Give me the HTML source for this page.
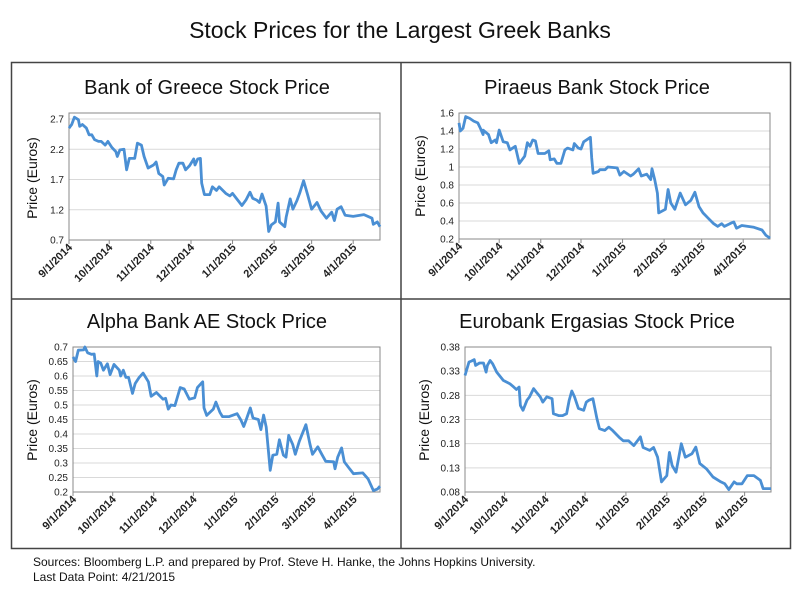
<!DOCTYPE html>
<html><head><meta charset="utf-8"><style>
body{margin:0;background:#fff;width:800px;height:600px;overflow:hidden;font-family:"Liberation Sans",sans-serif}
svg{position:absolute;left:0;top:0}
</style></head><body>
<svg id="chart" width="800" height="600" xmlns="http://www.w3.org/2000/svg">
<text x="400" y="38" text-anchor="middle" font-size="23" fill="#111">Stock Prices for the Largest Greek Banks</text>
<rect x="11.5" y="62.5" width="779" height="486" fill="none" stroke="#444" stroke-width="1.5"/>
<line x1="401" y1="62" x2="401" y2="549" stroke="#444" stroke-width="1.5"/>
<line x1="11" y1="299" x2="791" y2="299" stroke="#444" stroke-width="1.5"/>
<text x="33" y="566" font-size="12" fill="#111">Sources: Bloomberg L.P. and prepared by Prof. Steve H. Hanke, the Johns Hopkins University.</text>
<text x="33" y="581" font-size="12" fill="#111">Last Data Point: 4/21/2015</text>
</svg>
<script>
const tickLabels=["9/1/2014","10/1/2014","11/1/2014","12/1/2014","1/1/2015","2/1/2015","3/1/2015","4/1/2015"];
const tickDays=[0,30,61,91,122,153,181,212];
const totalDays=232;
const titles=["Bank of Greece Stock Price","Piraeus Bank Stock Price","Alpha Bank AE Stock Price","Eurobank Ergasias Stock Price"];
const yTicks1=[0.7,1.2,1.7,2.2,2.7];
const yTicks2=[0.2,0.4,0.6,0.8,1,1.2,1.4,1.6];
const yTicks3=[0.2,0.25,0.3,0.35,0.4,0.45,0.5,0.55,0.6,0.65,0.7];
const yTicks4=[0.08,0.13,0.18,0.23,0.28,0.33,0.38];
const days1=[0,2,4,7,8,10,13,15,17,19,22,24,27,29,32,35,36,38,41,43,45,49,51,54,56,59,63,65,67,70,71,74,78,80,82,85,87,90,93,94,96,98,99,101,105,107,110,112,117,120,122,129,132,135,137,140,142,144,147,149,151,154,156,157,161,162,165,167,170,172,175,178,181,185,188,192,196,198,200,203,206,212,220,226,227,230,232];
const vals1=[2.55,2.61,2.73,2.69,2.58,2.61,2.55,2.44,2.44,2.36,2.33,2.33,2.27,2.33,2.23,2.16,2.08,2.19,2.20,1.86,2.05,2.05,2.30,2.27,2.08,1.89,1.94,1.99,1.80,1.75,1.61,1.72,1.71,1.86,1.97,1.97,1.86,1.93,2.04,1.94,2.04,2.05,1.64,1.45,1.45,1.58,1.52,1.58,1.47,1.43,1.47,1.27,1.36,1.49,1.39,1.36,1.32,1.46,1.26,0.84,0.95,1.00,1.31,1.00,0.92,1.08,1.38,1.21,1.35,1.47,1.68,1.45,1.21,1.32,1.18,1.06,1.16,1.02,1.21,1.25,1.11,1.09,1.12,1.06,0.96,1.00,0.92];
const days2=[0,1,3,5,8,11,14,16,18,18,22,24,27,28,30,33,36,38,42,45,49,51,53,55,57,59,64,67,68,71,73,76,79,81,85,86,89,91,93,98,99,100,104,105,109,111,118,120,123,128,130,134,136,140,143,144,146,148,149,154,156,158,161,165,169,173,176,179,182,186,190,193,196,198,202,205,207,211,220,226,229,232];
const vals2=[1.49,1.40,1.43,1.56,1.54,1.51,1.49,1.43,1.36,1.41,1.36,1.27,1.30,1.27,1.41,1.28,1.27,1.19,1.23,1.04,1.12,1.27,1.23,1.30,1.29,1.15,1.15,1.18,1.08,1.09,1.04,1.04,1.19,1.21,1.19,1.26,1.21,1.20,1.28,1.33,1.10,0.93,0.95,0.97,0.97,1.00,0.99,0.91,0.95,0.90,0.92,0.98,0.90,0.92,0.86,0.98,0.86,0.71,0.49,0.53,0.75,0.60,0.53,0.71,0.58,0.63,0.72,0.56,0.49,0.43,0.37,0.34,0.37,0.34,0.37,0.39,0.32,0.35,0.33,0.30,0.24,0.21];
const days3=[0,2,4,8,9,11,14,16,18,19,21,23,26,28,31,35,36,38,40,42,45,47,50,53,57,59,63,65,68,70,72,74,77,81,84,88,92,94,98,99,101,106,108,111,113,118,124,127,129,131,134,136,140,142,144,146,149,151,154,156,159,161,163,166,168,171,176,179,181,185,188,191,197,198,200,203,205,209,212,219,223,227,230,232];
const vals3=[0.666,0.65,0.689,0.69,0.70,0.68,0.675,0.676,0.60,0.65,0.644,0.62,0.642,0.605,0.64,0.62,0.60,0.62,0.595,0.595,0.54,0.574,0.595,0.61,0.58,0.53,0.543,0.534,0.52,0.523,0.486,0.50,0.498,0.56,0.555,0.52,0.525,0.56,0.58,0.49,0.464,0.486,0.51,0.475,0.46,0.46,0.47,0.447,0.426,0.45,0.49,0.455,0.45,0.415,0.465,0.424,0.275,0.327,0.33,0.38,0.327,0.32,0.395,0.364,0.33,0.375,0.432,0.366,0.33,0.356,0.33,0.306,0.304,0.28,0.32,0.352,0.304,0.28,0.263,0.266,0.245,0.205,0.21,0.22];
const days4=[0,3,5,7,8,11,14,16,17,19,21,24,29,34,37,39,41,42,44,47,49,52,54,57,59,62,66,67,71,74,77,79,81,83,86,90,92,94,97,100,102,106,109,112,117,120,124,128,133,135,140,143,146,149,153,155,157,160,164,167,172,175,178,183,188,194,197,200,204,206,210,214,219,224,226,232];
const vals4=[0.321,0.349,0.351,0.354,0.342,0.347,0.347,0.328,0.342,0.352,0.345,0.328,0.311,0.304,0.297,0.292,0.297,0.259,0.249,0.27,0.277,0.294,0.287,0.277,0.266,0.277,0.273,0.242,0.238,0.238,0.242,0.27,0.289,0.277,0.253,0.249,0.266,0.27,0.273,0.232,0.211,0.207,0.214,0.207,0.193,0.186,0.186,0.176,0.194,0.172,0.166,0.172,0.152,0.101,0.114,0.162,0.135,0.121,0.18,0.152,0.159,0.173,0.139,0.128,0.111,0.101,0.097,0.085,0.101,0.097,0.097,0.114,0.114,0.104,0.087,0.087];

const NS="http://www.w3.org/2000/svg";
const svg=document.getElementById('chart');
function mk(tag,attrs,parent){const e=document.createElementNS(NS,tag);for(const k in attrs)e.setAttribute(k,attrs[k]);(parent||svg).appendChild(e);return e;}

const panels=[
 {x0:69,x1:380,y0:113,y1:240,yMin:0.7,yMax:2.8,ticks:yTicks1,days:days1,vals:vals1,title:titles[0],tx:207,ty:94,lx:37,ly:178},
 {x0:459,x1:770,y0:113,y1:239,yMin:0.2,yMax:1.6,ticks:yTicks2,days:days2,vals:vals2,title:titles[1],tx:597,ty:94,lx:425,ly:176},
 {x0:73,x1:380,y0:347,y1:492,yMin:0.2,yMax:0.7,ticks:yTicks3,days:days3,vals:vals3,title:titles[2],tx:207,ty:328,lx:37,ly:420},
 {x0:465,x1:771,y0:347,y1:492,yMin:0.08,yMax:0.38,ticks:yTicks4,days:days4,vals:vals4,title:titles[3],tx:597,ty:328,lx:429,ly:420}
];
const slugs=["bank-of-greece","piraeus","alpha-bank","eurobank"];
panels.forEach((p,i)=>{
 const g=mk('g',{});
 
 
 const xs=d=>p.x0+(p.x1-p.x0)*d/totalDays;
 const ys=v=>p.y1-(p.y1-p.y0)*(v-p.yMin)/(p.yMax-p.yMin);
 const t=mk('text',{x:p.tx,y:p.ty,'text-anchor':'middle','font-size':20,fill:'#111'},g);t.textContent=p.title;
 
 
 const yl=mk('text',{x:0,y:0,'text-anchor':'middle','font-size':14,fill:'#111',transform:`translate(${p.lx},${p.ly}) rotate(-90)`},g);yl.textContent='Price (Euros)';
 
 
 p.ticks.forEach(v=>{
  const y=ys(v);
  const gl=mk('line',{x1:p.x0,x2:p.x1,y1:y,y2:y,stroke:'#d9d9d9','stroke-width':1},g);
  
  
  const tl=mk('text',{x:p.x0-5,y:y+3.5,'text-anchor':'end','font-size':10,fill:'#222'},g);
  tl.textContent=String(v);
  
  
 });
 const fr=mk('rect',{x:p.x0,y:p.y0,width:p.x1-p.x0,height:p.y1-p.y0,fill:'none',stroke:'#888','stroke-width':1},g);
 
 
 tickDays.forEach((d,k)=>{
  const x=xs(d);
  const tm=mk('line',{x1:x,x2:x,y1:p.y1,y2:p.y1+4,stroke:'#888'},g);
  
  
  const tl=mk('text',{x:0,y:0,'text-anchor':'end','font-size':11,'font-weight':'bold',fill:'#222',transform:`translate(${x+4},${p.y1+8}) rotate(-45)`},g);
  tl.textContent=tickLabels[k];
  
  
 });
 const pts=p.days.map((d,k)=>xs(d).toFixed(1)+','+ys(p.vals[k]).toFixed(1)).join(' ');
 const ln=mk('polyline',{points:pts,fill:'none',stroke:'#4a8fd4','stroke-width':2.8,'stroke-linejoin':'round'},g);
 
 
});
</script>
</body></html>
